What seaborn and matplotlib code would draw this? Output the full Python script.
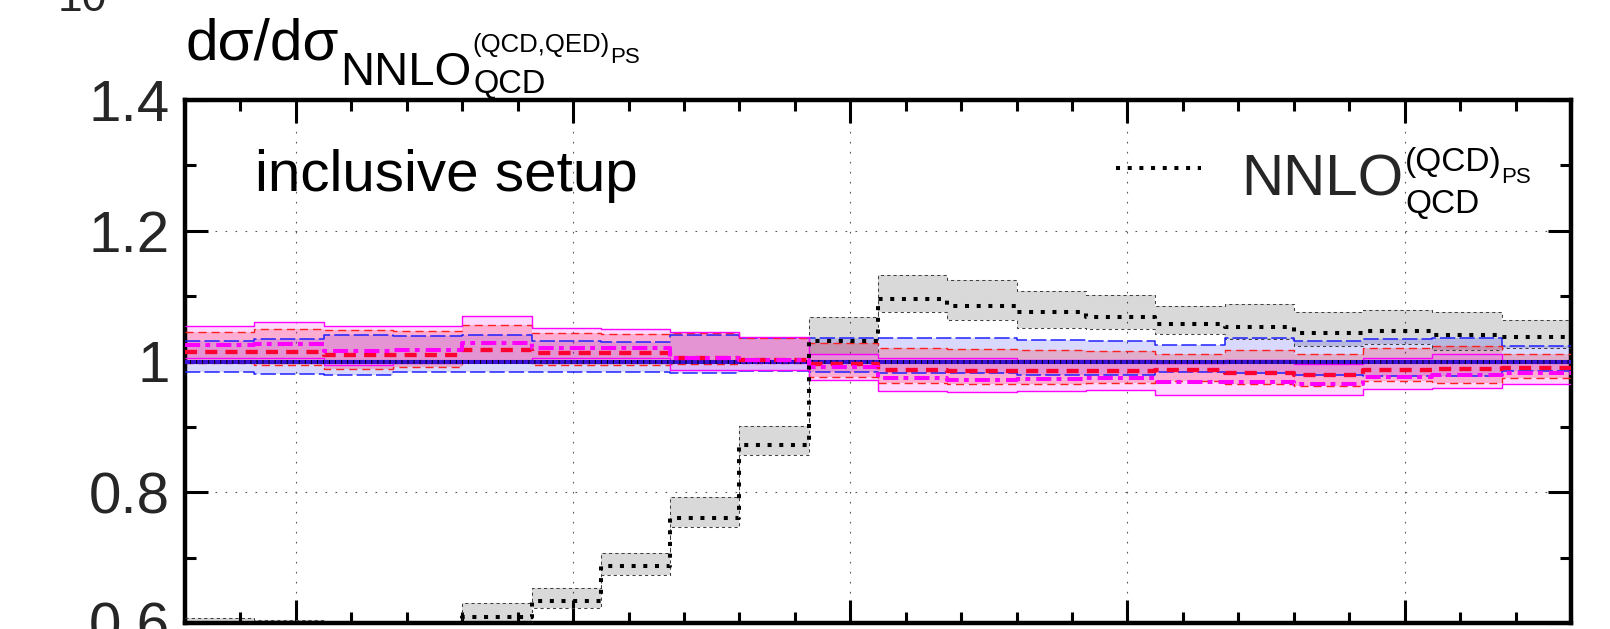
import numpy as np
import pandas as pd
import matplotlib
matplotlib.use("Agg")
import matplotlib.pyplot as plt
import seaborn as sns
from matplotlib.ticker import MultipleLocator, FixedLocator

# ---- binning of the observable (20 equal bins) ----
bin_edges = [0.00, 0.25, 0.50, 0.75, 1.00, 1.25, 1.50, 1.75, 2.00, 2.25, 2.50,
             2.75, 3.00, 3.25, 3.50, 3.75, 4.00, 4.25, 4.50, 4.75, 5.00]
x_major_ticks = [0.4, 1.4, 2.4, 3.4, 4.4]
y_tick_values = [0.6, 0.8, 1.0, 1.2, 1.4]
y_tick_labels = ["0.6", "0.8", "1", "1.2", "1.4"]

# ---- NNLO_QCD^(QCD)PS : ratio and scale band ----
qcdps_central = [0.590, 0.585, 0.570, 0.575, 0.609, 0.634, 0.687, 0.761, 0.873, 1.031,
                 1.096, 1.085, 1.075, 1.068, 1.057, 1.053, 1.043, 1.046, 1.040, 1.038]
qcdps_low = [0.575, 0.570, 0.555, 0.560, 0.595, 0.623, 0.673, 0.747, 0.857, 1.012,
             1.075, 1.064, 1.052, 1.049, 1.042, 1.034, 1.024, 1.027, 1.018, 1.020]
qcdps_high = [0.608, 0.605, 0.590, 0.595, 0.631, 0.654, 0.707, 0.792, 0.902, 1.068,
              1.133, 1.124, 1.108, 1.102, 1.085, 1.088, 1.075, 1.079, 1.075, 1.063]

# ---- reference NNLO_QCD^(QCD,QED)PS (ratio to itself) ----
ref_central = [1.000, 1.000, 1.000, 1.000, 1.000, 1.000, 1.000, 1.000, 1.000, 1.000,
               1.000, 1.000, 1.000, 1.000, 1.000, 1.000, 1.000, 1.000, 1.000, 1.000]
ref_low = [0.984, 0.981, 0.980, 0.984, 0.984, 0.984, 0.984, 0.982, 0.986, 0.984,
           0.983, 0.983, 0.980, 0.980, 0.984, 0.982, 0.979, 0.978, 0.978, 0.986]
ref_high = [1.032, 1.034, 1.040, 1.039, 1.040, 1.032, 1.030, 1.041, 1.036, 1.036,
            1.036, 1.036, 1.033, 1.032, 1.026, 1.036, 1.032, 1.034, 1.036, 1.024]

# ---- red prediction ----
red_central = [1.015, 1.015, 1.010, 1.010, 1.017, 1.013, 1.013, 1.005, 1.003, 0.996,
               0.987, 0.986, 0.986, 0.985, 0.987, 0.982, 0.980, 0.987, 0.989, 0.990]
red_low = [0.998, 0.995, 0.988, 0.992, 1.000, 0.994, 0.994, 0.996, 0.998, 0.976,
           0.967, 0.965, 0.965, 0.967, 0.970, 0.965, 0.963, 0.970, 0.967, 0.975]
red_high = [1.045, 1.049, 1.048, 1.047, 1.056, 1.043, 1.042, 1.043, 1.036, 1.029,
            1.020, 1.019, 1.018, 1.016, 1.011, 1.018, 1.012, 1.020, 1.023, 1.012]

# ---- magenta prediction ----
mag_central = [1.025, 1.027, 1.016, 1.018, 1.029, 1.020, 1.021, 1.005, 1.003, 0.992,
               0.974, 0.972, 0.973, 0.975, 0.968, 0.968, 0.965, 0.976, 0.979, 0.982]
mag_low = [1.006, 1.006, 0.994, 0.998, 1.000, 1.005, 1.005, 0.987, 0.987, 0.972,
           0.955, 0.953, 0.955, 0.956, 0.948, 0.949, 0.948, 0.958, 0.960, 0.966]
mag_high = [1.055, 1.061, 1.055, 1.055, 1.069, 1.052, 1.050, 1.045, 1.038, 1.012,
            1.006, 1.006, 1.003, 1.003, 0.997, 1.002, 0.996, 1.006, 1.012, 1.000]

W, H, DPI = 1610, 629, 100

sns.set_theme(style="ticks")
plt.rcParams["font.family"] = ["Liberation Sans", "DejaVu Sans"]
plt.rcParams["axes.linewidth"] = 3.2

fig = plt.figure(figsize=(W / DPI, H / DPI), dpi=DPI)
ax = fig.add_axes([185 / W, 1 - 623 / H, (1571 - 185) / W, (623 - 100) / H])


def stepped(vals):
    return np.append(np.asarray(vals, float), vals[-1])


def step_frame(vals):
    return pd.DataFrame({"x": bin_edges, "y": stepped(vals)})


def step_line(vals, color, lw, dashes=None, z=3):
    sns.lineplot(data=step_frame(vals), x="x", y="y", ax=ax, color=color,
                 linewidth=lw, drawstyle="steps-post", estimator=None,
                 sort=False, zorder=z)
    line = ax.lines[-1]
    if dashes is not None:
        line.set_dashes(dashes)
    line.set_solid_capstyle("butt")
    line.set_dash_capstyle("butt")
    return line


# uncertainty bands
ax.fill_between(bin_edges, stepped(qcdps_low), stepped(qcdps_high), step="post",
                color="black", alpha=0.15, lw=0, zorder=1)
ax.fill_between(bin_edges, stepped(ref_low), stepped(ref_high), step="post",
                color="#0000ff", alpha=0.15, lw=0, zorder=1)
ax.fill_between(bin_edges, stepped(red_low), stepped(red_high), step="post",
                color="#ff0000", alpha=0.20, lw=0, zorder=1)
ax.fill_between(bin_edges, stepped(mag_low), stepped(mag_high), step="post",
                color="#ff00ff", alpha=0.15, lw=0, zorder=1)

# band edges
for v in (qcdps_low, qcdps_high):
    step_line(v, "#404040", 0.75, (3, 3), z=3)
for v in (ref_low, ref_high):
    step_line(v, "#2020ff", 1.1, (10, 2.7), z=3)
for v in (red_low, red_high):
    step_line(v, "#ff2020", 1.0, (5.8, 3.6), z=3)
for v in (mag_low, mag_high):
    step_line(v, "#ff00ff", 1.0, None, z=3)

# central values
ax.axhline(1.0, color="black", lw=2.9, zorder=4)
step_line(ref_central, "#3a10d8", 2.9, (1.25, 0.25), z=4.5)
step_line(red_central, "#ff0030", 3.1, (2.8, 1.9), z=5)
step_line(mag_central, "#ff00ff", 2.9, (3.75, 1.3, 1.2, 1.5), z=5.5)
qcd_line = step_line(qcdps_central, "black", 2.9, (1, 1.9), z=6)

# axes styling
ax.set_xlim(bin_edges[0], bin_edges[-1])
ax.set_ylim(y_tick_values[0], y_tick_values[-1])
ax.xaxis.set_major_locator(FixedLocator(x_major_ticks))
ax.xaxis.set_minor_locator(MultipleLocator(0.2))
ax.yaxis.set_major_locator(FixedLocator(y_tick_values))
ax.yaxis.set_minor_locator(MultipleLocator(0.1))
ax.set_yticklabels(y_tick_labels)
ax.set_xlabel("")
ax.set_ylabel("")
ax.tick_params(which="both", direction="in", top=True, right=True,
               labelbottom=False, color="black")
ax.tick_params(which="major", length=16.5, width=2.2, labelsize=42, pad=11)
ax.tick_params(which="minor", length=8, width=2.2)
for s in ax.spines.values():
    s.set_color("black")
    s.set_linewidth(3.2)
ax.grid(which="major", color="#555555", linestyle=(0, (1.5, 7.5)), linewidth=0.8)
ax.set_axisbelow(True)

# legend
LEG_BASE = 195
leg = ax.legend(handles=[qcd_line], labels=["NNLO"], frameon=False, fontsize=42,
                handlelength=1.46, handleheight=1.45, handletextpad=0.69,
                borderpad=0, borderaxespad=0, loc="lower left",
                bbox_to_anchor=(1116 / W, 1 - 205 / H),
                bbox_transform=fig.transFigure)

fig.canvas.draw()
renderer = fig.canvas.get_renderer()

# shift the legend so its label sits on the intended baseline
ltxt = leg.get_texts()[0]
bb = ltxt.get_window_extent(renderer)
_, _, desc = renderer.get_text_width_height_descent("lp", ltxt.get_fontproperties(), ismath=False)
dy = (H - LEG_BASE) - (bb.y0 + desc)
leg.set_bbox_to_anchor((1116 / W, 1 - 205 / H + dy / H), transform=fig.transFigure)
fig.canvas.draw()
bb = ltxt.get_window_extent(renderer)


def put(x_px, base_px, s, size):
    t = fig.text(x_px / W, 1 - base_px / H, s, fontsize=size, va="baseline",
                 ha="left", color="black")
    return t.get_window_extent(renderer).x1


# legend label scripts
nnlo_end = bb.x1
xs = put(nnlo_end + 1, 171, "(QCD)", 24)
put(xs, 183, "PS", 16)
put(nnlo_end + 2, 213, "QCD", 24)

# axis label at the top left
x1 = put(185, 60, "dσ/dσ", 42)
x2 = put(x1 + 2, 85, "NNLO", 34)
x3 = put(x2 + 1, 52, "(QCD,QED)", 18.5)
put(x3, 63, "PS", 16)
put(x2 + 2, 93, "QCD", 23.5)

# setup tag
put(255, 191, "inclusive setup", 42)

# exponent of the panel above
fig.text(107 / W, 1 - 11 / H, "10", fontsize=32, ha="right", va="baseline")

fig.savefig("out.png", dpi=DPI)
